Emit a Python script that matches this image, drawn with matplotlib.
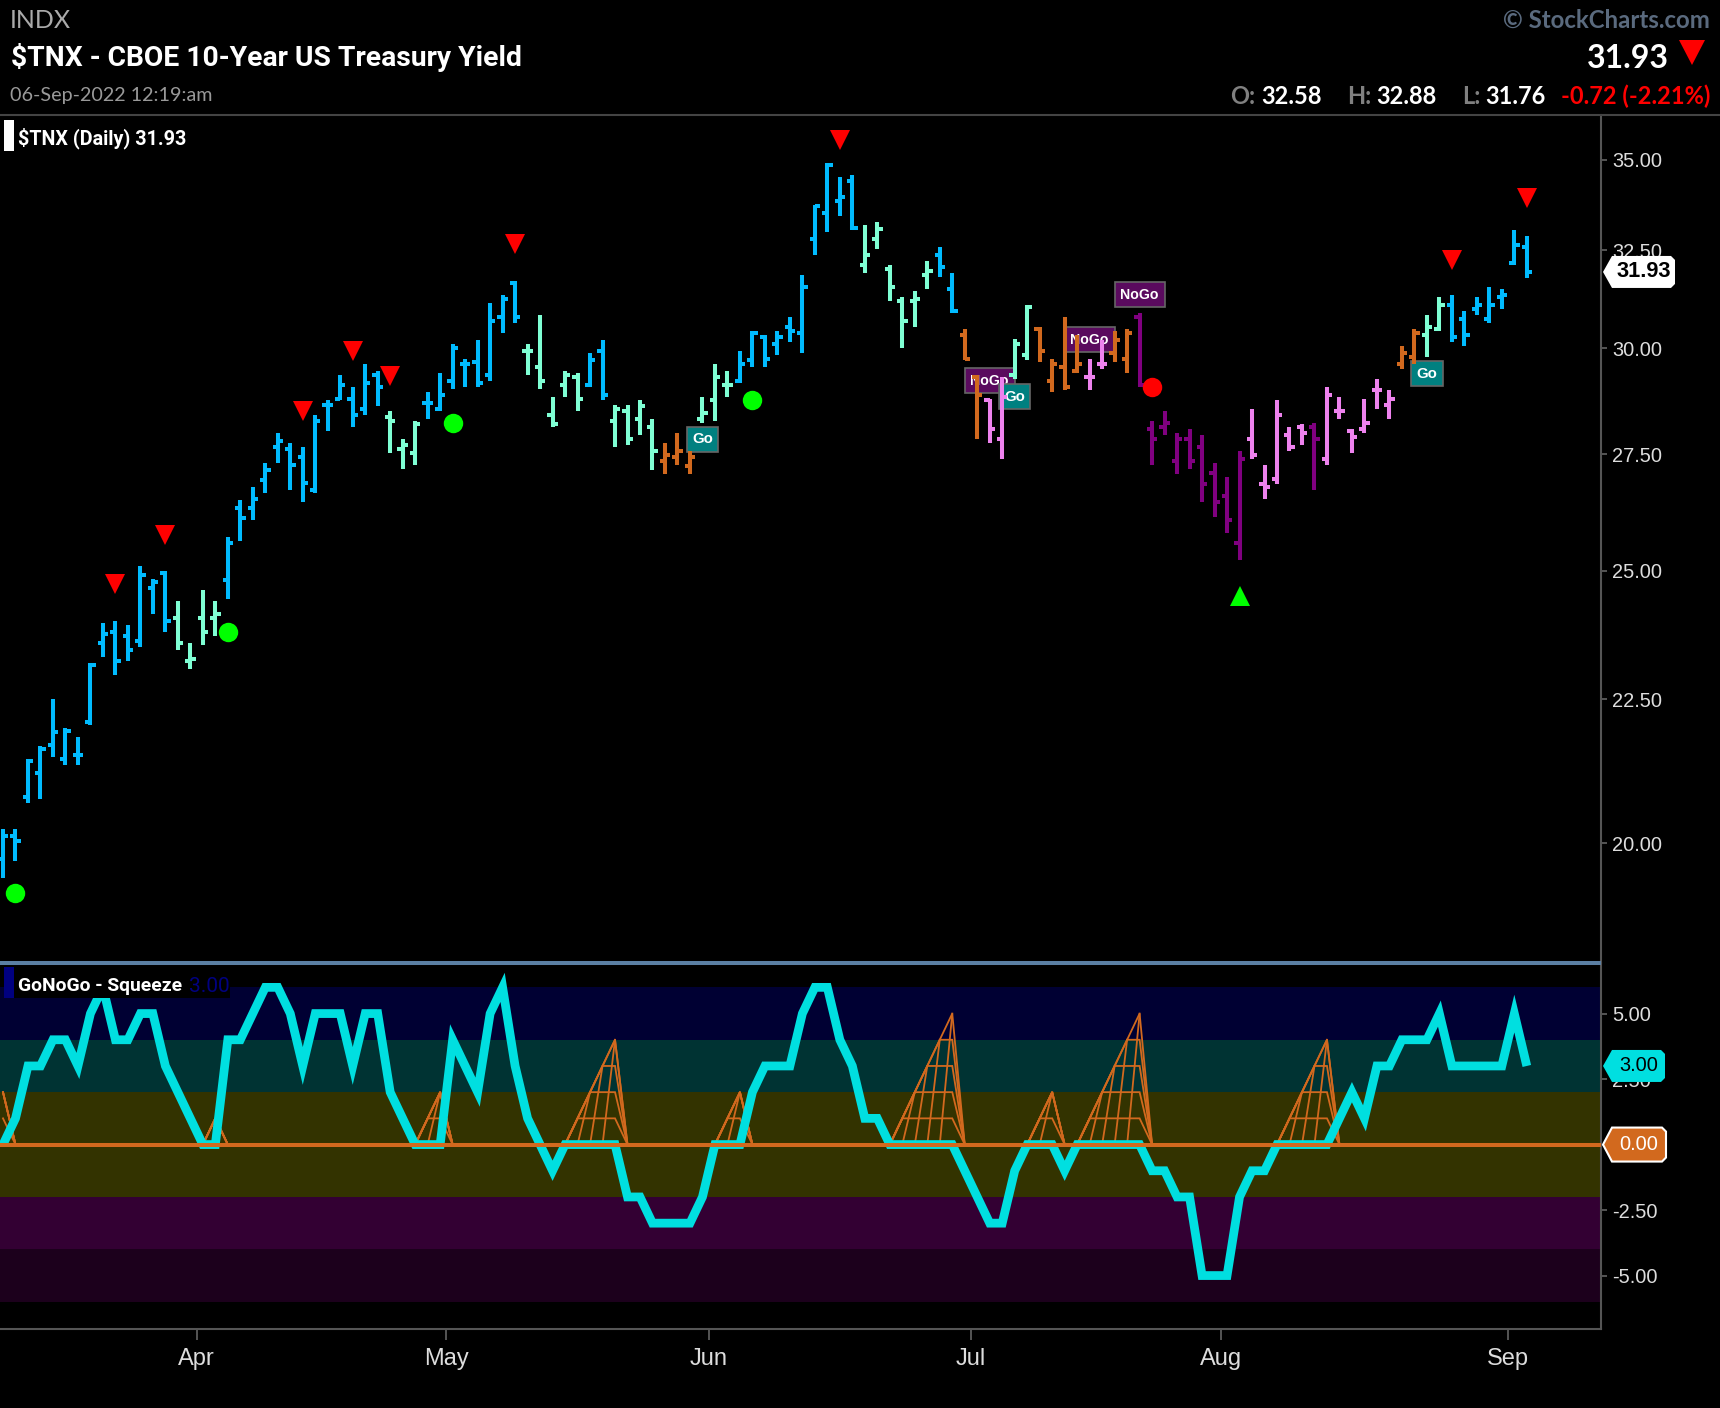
import matplotlib
matplotlib.use("Agg")
import matplotlib.pyplot as plt
import numpy as np
from matplotlib.patches import Polygon, Rectangle
from matplotlib.transforms import IdentityTransform

# daily bars, left tick = open, right tick = close
opens = [19.75, 20.11, 20.77, 21.19, 21.68, 21.43, 21.50, 22.08, 23.57, 23.77,
         23.69, 23.61, 24.64, 24.96, 24.04, 23.22, 24.04, 24.04, 24.80, 26.31,
         26.31, 26.92, 27.67, 27.63, 27.45, 26.70, 28.64, 28.78, 28.78, 28.55,
         29.35, 28.36, 27.63, 27.54, 28.69, 28.55, 29.21, 29.60, 29.65, 29.35,
         30.78, 31.65, 29.94, 29.55, 28.41, 29.11, 29.30, 29.11, 29.94, 28.27,
         28.50, 28.31, 28.13, 27.36, 27.45, 27.23, 28.31, 28.74, 29.11, 29.21,
         29.70, 30.28, 30.09, 30.53, 30.38, 32.81, 33.52, 33.85, 34.40, 32.12,
         32.81, 32.02, 31.18, 31.18, 31.86, 32.38, 31.50, 30.33, 29.30, 28.74,
         27.85, 29.35, 29.84, 30.48, 29.21, 29.55, 29.45, 29.30, 29.60, 29.89,
         29.74, 30.78, 28.08, 28.13, 27.36, 27.85, 27.67, 27.09, 26.57, 25.58,
         27.85, 26.83, 26.96, 27.94, 28.13, 28.13, 27.40, 28.50, 28.03, 28.08,
         28.98, 28.64, 29.60, 29.79, 30.33, 30.48, 31.08, 30.73, 30.98, 30.73,
         31.29, 32.17, 32.58]
highs = [20.24, 20.24, 21.43, 21.65, 22.51, 21.97, 21.82, 23.18, 23.96, 24.00,
         23.92, 25.09, 24.84, 25.00, 24.39, 23.57, 24.60, 24.39, 25.70, 26.48,
         26.78, 27.31, 27.99, 27.76, 27.67, 28.41, 28.74, 29.35, 29.07, 29.60,
         29.45, 28.50, 27.85, 28.27, 28.93, 29.40, 30.09, 29.74, 30.19, 31.13,
         31.34, 31.70, 30.09, 30.83, 28.83, 29.45, 29.40, 29.89, 30.19, 28.64,
         28.64, 28.74, 28.31, 27.76, 27.99, 27.58, 28.83, 29.60, 29.45, 29.94,
         30.43, 30.33, 30.43, 30.78, 31.86, 33.74, 34.91, 34.51, 34.57, 33.19,
         33.25, 32.12, 31.29, 31.44, 32.22, 32.59, 31.91, 30.48, 29.35, 28.78,
         29.30, 30.23, 31.08, 30.53, 29.74, 30.78, 30.33, 29.74, 30.21, 30.43,
         30.48, 30.88, 28.27, 28.50, 27.99, 28.08, 27.94, 27.31, 27.00, 27.58,
         28.55, 27.27, 28.74, 28.13, 28.18, 28.22, 29.07, 28.83, 28.08, 28.78,
         29.25, 28.98, 30.04, 30.48, 30.83, 31.29, 31.34, 30.93, 31.29, 31.55,
         31.50, 33.04, 32.88]
lows = [19.43, 19.71, 20.67, 20.74, 21.46, 21.32, 21.32, 22.04, 23.30, 22.96,
        23.22, 23.49, 24.12, 23.77, 23.42, 23.07, 23.53, 23.69, 24.43, 25.62,
        26.05, 26.65, 27.31, 26.70, 26.44, 26.65, 28.03, 28.74, 28.13, 28.41,
        28.60, 27.54, 27.18, 27.27, 28.31, 28.50, 29.02, 29.07, 29.07, 29.21,
        30.38, 30.63, 29.35, 29.02, 28.13, 28.83, 28.50, 29.07, 28.74, 27.67,
        27.72, 27.94, 27.14, 27.05, 27.27, 27.05, 28.22, 28.27, 28.83, 29.16,
        29.55, 29.55, 29.84, 30.14, 29.89, 32.38, 32.99, 33.44, 33.04, 31.91,
        32.54, 31.18, 29.99, 30.53, 31.50, 31.81, 30.88, 29.70, 27.85, 27.76,
        27.40, 29.25, 29.70, 29.65, 28.93, 28.98, 29.40, 28.98, 29.50, 29.65,
        29.40, 29.07, 27.27, 27.94, 27.05, 27.18, 26.44, 26.13, 25.79, 25.21,
        27.40, 26.52, 26.83, 27.58, 27.72, 26.70, 27.27, 28.31, 27.54, 27.99,
        28.55, 28.31, 29.50, 29.60, 29.79, 30.43, 30.14, 30.04, 30.83, 30.63,
        30.98, 32.12, 31.76]
closes = [20.11, 20.04, 21.39, 21.61, 21.90, 21.93, 21.50, 23.15, 23.73, 23.22,
          23.42, 24.92, 24.76, 24.00, 23.57, 23.26, 23.77, 24.12, 25.58, 26.11,
          26.52, 27.14, 27.81, 27.27, 26.87, 28.27, 28.64, 29.11, 28.41, 29.16,
          29.07, 28.27, 27.72, 28.18, 28.69, 28.88, 29.99, 29.60, 29.16, 30.68,
          31.24, 30.78, 29.94, 29.21, 28.18, 29.35, 28.78, 29.70, 28.88, 28.55,
          27.85, 28.60, 27.58, 27.49, 27.58, 27.45, 28.45, 29.30, 29.11, 29.60,
          30.38, 29.74, 30.28, 30.43, 31.55, 33.69, 34.86, 33.96, 33.09, 32.38,
          33.08, 31.55, 30.68, 31.23, 31.96, 32.07, 30.93, 29.74, 28.88, 28.08,
          28.83, 30.09, 31.03, 29.94, 29.60, 29.07, 29.60, 29.30, 29.60, 30.19,
          30.38, 29.11, 27.85, 28.22, 27.85, 27.36, 26.83, 26.44, 26.05, 27.40,
          27.49, 26.78, 28.41, 27.67, 27.99, 27.85, 28.88, 28.50, 27.90, 28.22,
          28.98, 28.78, 29.89, 30.38, 30.53, 31.08, 30.28, 30.33, 31.08, 31.08,
          31.34, 32.65, 31.93]

# GoNoGo colour of the bars, (name, how many bars)
color_runs = [("blue", 14), ("mint", 4), ("blue", 13), ("mint", 3), ("blue", 8),
              ("mint", 5), ("blue", 2), ("mint", 4), ("orange", 3), ("mint", 3),
              ("blue", 10), ("mint", 6), ("blue", 2), ("orange", 2), ("pink", 2),
              ("mint", 2), ("orange", 4), ("pink", 2), ("orange", 2), ("purple", 9),
              ("pink", 5), ("purple", 1), ("pink", 6), ("orange", 2), ("mint", 2),
              ("blue", 7)]
palette = {"blue": "#00bbff", "mint": "#7fffd4", "orange": "#d2691e",
           "pink": "#ee82ee", "purple": "#800080"}

# signals: bar number and price
down_bars = [9, 13, 24, 28, 31, 41, 67, 116, 122]
down_prices = [24.72, 25.74, 28.50, 29.94, 29.33, 32.68, 35.58, 32.25, 33.92]
up_bars = [99]
up_prices = [24.48]
green_bars = [1, 18, 36, 60]
green_prices = [19.20, 23.77, 28.22, 28.76]
red_bars = [92]
red_prices = [29.07]
go_bars = [56, 81, 114]
go_prices = [27.84, 28.83, 29.38]
nogo_bars = [79, 87, 91]
nogo_prices = [29.21, 30.21, 31.34]

# GoNoGo oscillator
oscillator = [0, 1, 3, 3, 4, 4, 3, 5, 6, 4, 4, 5, 5, 3, 2, 1, 0, 0, 4, 4,
              5, 6, 6, 5, 3, 5, 5, 5, 3, 5, 5, 2, 1, 0, 0, 0, 4, 3, 2, 5,
              6, 3, 1, 0, -1, 0, 0, 0, 0, 0, -2, -2, -3, -3, -3, -3, -2, 0, 0, 0,
              2, 3, 3, 3, 5, 6, 6, 4, 3, 1, 1, 0, 0, 0, 0, 0, 0, -1, -2, -3,
              -3, -1, 0, 0, 0, -1, 0, 0, 0, 0, 0, 0, -1, -1, -2, -2, -5, -5, -5, -2,
              -1, -1, 0, 0, 0, 0, 0, 1, 2, 1, 3, 3, 4, 4, 4, 5, 3, 3, 3, 3,
              3, 5, 3]
squeeze = [2, 0, 0, 0, 0, 0, 0, 0, 0, 0, 0, 0, 0, 0, 0, 0, 0, 1, 0, 0,
           0, 0, 0, 0, 0, 0, 0, 0, 0, 0, 0, 0, 0, 0, 1, 2, 0, 0, 0, 0,
           0, 0, 0, 0, 0, 0, 1, 2, 3, 4, 0, 0, 0, 0, 0, 0, 0, 0, 1, 2,
           0, 0, 0, 0, 0, 0, 0, 0, 0, 0, 0, 0, 1, 2, 3, 4, 5, 0, 0, 0,
           0, 0, 0, 1, 2, 0, 0, 1, 2, 3, 4, 5, 0, 0, 0, 0, 0, 0, 0, 0,
           0, 0, 0, 1, 2, 3, 4, 0, 0, 0, 0, 0, 0, 0, 0, 0, 0, 0, 0, 0,
           0, 0, 0]

month_bars = [16, 36, 57, 78, 98, 121]
month_labels = ["Apr", "May", "Jun", "Jul", "Aug", "Sep"]
price_ticks = [35, 32.5, 30, 27.5, 25, 22.5, 20]
osc_ticks = [5, 2.5, 0, -2.5, -5]

W, H = 1720, 1408
NARROW = ["Roboto"]
HELV = ["Liberation Sans", "DejaVu Sans"]
AXIS = "#555555"
TICKTXT = "#dddddd"


def panel(top, bottom, right=1601):
    return fig.add_axes([0, 1 - bottom / H, right / W, (bottom - top) / H], facecolor="black")


fig = plt.figure(figsize=(W / 100, H / 100), dpi=100, facecolor="black")
ax = panel(115, 963)
ax2 = panel(963, 1329)
bars = np.arange(len(closes))
colors = [palette[n] for n, c in color_runs for _ in range(c)]
xlim = (-0.24, 127.94)

# price panel
ax.set_yscale("log")
ax.set_xlim(*xlim)
ax.set_ylim(18.13, 36.31)
ax.vlines(bars, lows, highs, colors=colors, linewidth=2.9, capstyle="butt", zorder=4)
ax.hlines(opens, bars - 0.42, bars, colors=colors, linewidth=2.9, capstyle="butt", zorder=4)
ax.hlines(closes, bars, bars + 0.42, colors=colors, linewidth=2.9, capstyle="butt", zorder=4)
ax.plot(down_bars, down_prices, "v", color="#ff0000", ms=15, mew=0, ls="none", zorder=5)
ax.plot(up_bars, up_prices, "^", color="#00ff00", ms=15, mew=0, ls="none", zorder=5)
ax.plot(green_bars, green_prices, "o", color="#00ff00", ms=14, mew=0, ls="none", zorder=5)
ax.plot(red_bars, red_prices, "o", color="#ff0000", ms=14, mew=0, ls="none", zorder=5)

for b, p in zip(nogo_bars, nogo_prices):
    ax.text(b, p, "NoGo", color="white", fontsize=10.2, fontweight="bold", family=HELV,
            ha="center", va="center", zorder=2,
            bbox=dict(boxstyle="square,pad=0.4", fc="#5a0a5e", ec="#666666", lw=1.2))
for b, p in zip(go_bars, go_prices):
    ax.text(b, p, "Go", color="white", fontsize=10.8, fontweight="bold", family=HELV,
            ha="center", va="center", zorder=3,
            bbox=dict(boxstyle="square,pad=0.35", fc="#008080", ec="#666666", lw=1.2))

ax.yaxis.tick_right()
ax.set_yticks(price_ticks)
ax.set_yticklabels([f"{t:.2f}" for t in price_ticks], color=TICKTXT, fontsize=14.4, family=HELV)
ax.minorticks_off()
ax.set_xticks([])
ax.tick_params(axis="y", length=4.5, width=1.4, color=AXIS, pad=3.5)
for s in ["left", "top", "bottom"]:
    ax.spines[s].set_visible(False)
ax.spines["right"].set_color(AXIS)
ax.spines["right"].set_linewidth(1.5)

# squeeze panel
ax2.set_xlim(*xlim)
ax2.set_ylim(-7.04, 6.93)
bands = [(4, 6, "#000033"), (2, 4, "#003333"), (-2, 2, "#333300"),
         (-4, -2, "#330033"), (-6, -4, "#1c001c")]
for lo, hi, c in bands:
    ax2.axhspan(lo, hi, color=c, lw=0, zorder=0)

squeeze = np.array(squeeze)
for k in range(1, 6):
    ax2.plot(bars, np.minimum(squeeze, k), color="#d2691e", lw=1.3, solid_joinstyle="miter", zorder=1)
for i in bars[1:]:
    if squeeze[i] > 0 and squeeze[i - 1] > 0:
        ax2.plot([i - 1, i], [0, squeeze[i]], color="#d2691e", lw=1.3, zorder=1)
ax2.plot(bars, oscillator, color="#00dfe0", lw=6.3, solid_joinstyle="miter",
         solid_capstyle="butt", zorder=2)
ax2.axhline(0, color="#d2691e", lw=2.9, zorder=3)

ax2.yaxis.tick_right()
ax2.set_yticks(osc_ticks)
# the 0.00 tag sits on that tick, so its own label stays empty
ax2.set_yticklabels(["" if t == 0 else f"{t:.2f}" for t in osc_ticks], color=TICKTXT,
                    fontsize=14.4, family=HELV)
ax2.set_xticks(np.array(month_bars) - 0.5)
ax2.set_xticklabels(month_labels, color=TICKTXT, fontsize=17, family=HELV)
ax2.tick_params(axis="y", length=4.5, width=1.4, color=AXIS, pad=3.5)
ax2.tick_params(axis="x", length=8, width=1.4, color=AXIS, pad=6)
ax2.spines["left"].set_visible(False)
ax2.spines["right"].set_color(AXIS)
ax2.spines["bottom"].set_color(AXIS)
ax2.spines["right"].set_linewidth(1.5)
ax2.spines["bottom"].set_linewidth(1.5)
ax2.spines["top"].set_color("#5b7fa3")
ax2.spines["top"].set_linewidth(2.9)
ax2.spines["top"].set_capstyle("butt")


# header and legends, placed in image pixels on a top layer
top = fig.add_axes([0, 0, 1, 1], facecolor="none", zorder=10)
top.set_xlim(0, W)
top.set_ylim(H, 0)
top.axis("off")


def label(x, y, s, color, size, family="Lato", weight="normal", ha="left"):
    return top.text(x, y, s, color=color, fontsize=size, family=family, fontweight=weight,
                    ha=ha, va="center", parse_math=False)


top.plot([0, W], [115, 115], color="#444444", lw=1.5)
label(10, 21, "INDX", "#aaaaaa", 18)
label(11, 57, "$TNX - CBOE 10-Year US Treasury Yield", "white", 20.3, NARROW, "bold")
label(10, 95, "06-Sep-2022 12:19:am", "#999999", 14.2)
label(1710, 20, "© StockCharts.com", "#5a6a7e", 17.3, weight="bold", ha="right")
label(1669, 58, "31.93", "white", 23, weight="bold", ha="right")
top.add_patch(Polygon([[1679, 40], [1705, 40], [1692, 65]], fc="#ff0000", ec="none"))
label(1230, 96, "O:", "#808080", 17, weight="bold")
label(1261, 96, "32.58", "white", 17, weight="bold")
label(1347, 96, "H:", "#808080", 17, weight="bold")
label(1376, 96, "32.88", "white", 17, weight="bold")
label(1462, 96, "L:", "#808080", 17, weight="bold")
label(1485, 96, "31.76", "white", 17, weight="bold")
label(1710, 96, "-0.72 (-2.21%)", "#ff0000", 17, weight="bold", ha="right")

top.add_patch(Rectangle((4, 120), 10, 31, fc="white", ec="none"))
label(18, 138, "$TNX (Daily) 31.93", "white", 14.2, NARROW, "bold")
top.add_patch(Rectangle((4, 967), 226, 31, fc="black", ec="none"))
top.add_patch(Rectangle((4, 967), 10, 31, fc="#000080", ec="none"))
label(18, 986, "GoNoGo - Squeeze", "white", 13.9, NARROW, "bold")
label(189, 986, "3.00", "#000080", 15, NARROW)


def flag(axis, value, s, fc, tc, ec, weight, x1, h, size):
    # price tag on the right axis, its height follows the value
    fig.canvas.draw()
    y = axis.transData.transform((0, value))[1]
    xl, c = 1603, 4
    pts = [(xl, y), (xl + 9, y + h), (x1 - c, y + h), (x1, y + h - c),
           (x1, y - h + c), (x1 - c, y - h), (xl + 9, y - h)]
    fig.add_artist(Polygon(pts, closed=True, fc=fc, ec=ec, lw=1.5,
                           transform=IdentityTransform(), zorder=11))
    fig.text((xl + 9 + x1) / 2 / W, y / H, s, color=tc, fontsize=size, family=HELV,
             fontweight=weight, ha="center", va="center", zorder=12)


flag(ax, closes[-1], "31.93", "white", "black", "none", "bold", 1675, 16, 15.7)
flag(ax2, oscillator[-1], "3.00", "#00dfe0", "black", "none", "normal", 1665, 16, 14.4)
flag(ax2, 0, "0.00", "#d2691e", "white", "white", "normal", 1666, 17, 14.4)

fig.savefig("out.png", dpi=100, facecolor="black")
